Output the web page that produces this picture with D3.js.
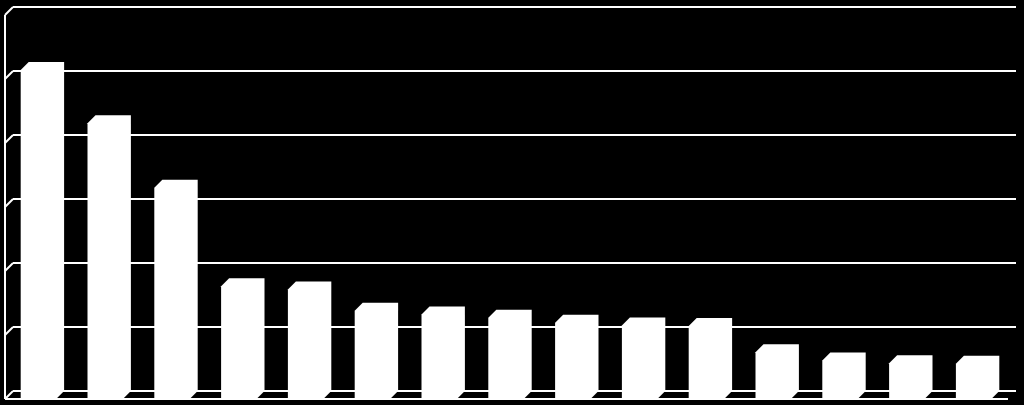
<!DOCTYPE html>
<html>
<head>
<meta charset="utf-8">
<script src="https://cdn.jsdelivr.net/npm/d3@7"></script>
<style>
  html, body { margin: 0; padding: 0; background: #000; }
  svg { display: block; }
</style>
</head>
<body>
<script>
// Data (no labels are shown in the reference)
const categories = ["C1","C2","C3","C4","C5","C6","C7","C8","C9","C10","C11","C12","C13","C14","C15"];
const values = [51.4, 43.1, 33.0, 17.6, 17.1, 13.8, 13.2, 12.7, 11.9, 11.5, 11.4, 7.3, 6.0, 5.6, 5.5];
const gridTicks = [0, 10, 20, 30, 40, 50, 60];

const W = 1024, H = 405;
const depthX = 8, depthY = 8;
const floorBack = 391, floorFront = floorBack + depthY;
const wallLeft = 5;

const svg = d3.select("body").append("svg").attr("width", W).attr("height", H);
svg.append("rect").attr("width", W).attr("height", H).attr("fill", "#000");

const y = d3.scaleLinear().domain([0, 60]).range([floorBack, 7]);
const x = d3.scaleBand().domain(categories).range([5, 1007]).paddingInner(0.47).paddingOuter(0.235);

const backLeft = wallLeft + depthX, backRight = 1016;

// back wall gridlines
svg.append("g").selectAll("line").data(gridTicks).join("line")
  .attr("x1", backLeft).attr("x2", backRight)
  .attr("y1", d => y(d)).attr("y2", d => y(d))
  .attr("stroke", "#fff").attr("stroke-width", 2);

// side wall diagonals
svg.append("g").selectAll("line").data(gridTicks).join("line")
  .attr("x1", wallLeft).attr("x2", backLeft)
  .attr("y1", d => y(d) + depthY).attr("y2", d => y(d))
  .attr("stroke", "#fff").attr("stroke-width", 2);

// side wall front vertical edge
svg.append("line")
  .attr("x1", wallLeft).attr("x2", wallLeft)
  .attr("y1", y(60) + depthY).attr("y2", floorFront)
  .attr("stroke", "#fff").attr("stroke-width", 2);

// floor front edge
svg.append("line")
  .attr("x1", wallLeft).attr("x2", 1008)
  .attr("y1", floorFront).attr("y2", floorFront)
  .attr("stroke", "#fff").attr("stroke-width", 2);

// bars (3D prisms, all faces white)
svg.append("g").selectAll("path").data(categories).join("path")
  .attr("d", (c, i) => {
    const x0 = x(c), x1 = x(c) + x.bandwidth();
    const yt = y(values[i]);
    return d3.line()([
      [x0, floorFront],
      [x0, yt + depthY],
      [x0 + depthX, yt],
      [x1 + depthX, yt],
      [x1 + depthX, floorBack],
      [x1, floorFront]
    ]) + "Z";
  })
  .attr("fill", "#fff");
</script>
</body>
</html>
